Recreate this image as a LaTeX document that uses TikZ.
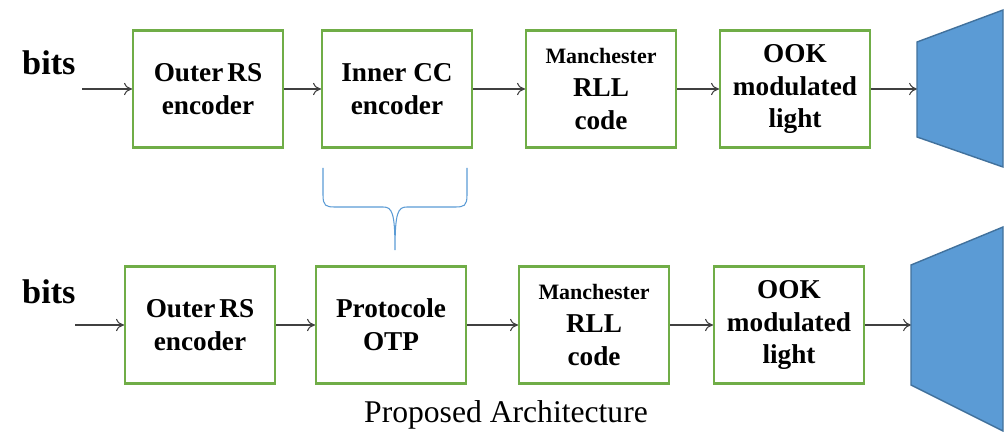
\documentclass[tikz,border=0pt]{standalone}
\usepackage{fontspec}
\setmainfont{Liberation Serif}
\usetikzlibrary{arrows.meta}
\definecolor{boxgreen}{RGB}{112,173,71}
\definecolor{lensblue}{RGB}{91,155,213}
\definecolor{lensedge}{RGB}{65,113,156}
\definecolor{wire}{RGB}{64,64,64}
\tikzset{
  block/.style={draw=boxgreen, line width=1.2pt, fill=white, minimum width=3cm,
    minimum height=2.34cm, inner sep=0pt, align=center,
    font=\bfseries\fontsize{15.5}{18.6}\selectfont},
  flow/.style={draw=wire, line width=0.6pt, -{To[length=4.5pt,width=7pt]}},
  lens/.style={fill=lensblue, draw=lensedge, line width=0.8pt},
  bitsfont/.style={font=\bfseries\fontsize{19.5}{22}\selectfont, anchor=base west}
}
\newcommand{\smallline}[1]{{\fontsize{12.5}{15}\selectfont #1}}
\begin{document}
\begin{tikzpicture}[x=0.02cm,y=-0.02cm]
\useasboundingbox (0,0) rectangle (1006,432);
% top chain
\node[bitsfont] (bitsA) at (16,75) {bits};
\coordinate (inA) at (82,89);
\node[block] (rsA) at (208,89) {Outer\hspace{0.15em}RS\\encoder};
\node[block] (ccA) at (397,89) {Inner CC\\encoder};
\node[block] (rllA) at (601,89) {\smallline{Manchester}\\RLL\\code};
\node[block] (ookA) at (795,89) {OOK\\modulated\\light};
\coordinate (lensA) at (917,89);
\draw[flow] (inA) -- (rsA);
\draw[flow] (rsA) -- (ccA);
\draw[flow] (ccA) -- (rllA);
\draw[flow] (rllA) -- (ookA);
\draw[flow] (ookA) -- (lensA);
\draw[lens] (917,42) -- (1003,10) -- (1003,167) -- (917,137) -- cycle;
% brace
\draw[lensblue, line width=0.6pt] (323,168) -- (323,195)
  .. controls (323,206) and (326,207) .. (335,207) -- (383,207)
  .. controls (392,207) and (395,212) .. (395,250)
  .. controls (395,212) and (398,207) .. (407,207) -- (455,207)
  .. controls (464,207) and (467,206) .. (467,195) -- (467,168);
% bottom chain
\node[bitsfont] (bitsB) at (16,303) {bits};
\coordinate (inB) at (75,325);
\node[block] (rsB) at (200,325) {Outer\hspace{0.15em}RS\\encoder};
\node[block] (otpB) at (391,325) {Protocole\\OTP};
\node[block] (rllB) at (594,325) {\smallline{Manchester}\\RLL\\code};
\node[block] (ookB) at (789,325) {OOK\\modulated\\light};
\coordinate (lensB) at (911,325);
\draw[flow] (inB) -- (rsB);
\draw[flow] (rsB) -- (otpB);
\draw[flow] (otpB) -- (rllB);
\draw[flow] (rllB) -- (ookB);
\draw[flow] (ookB) -- (lensB);
\draw[lens] (911,265) -- (1003,227) -- (1003,431) -- (911,385) -- cycle;
\node[font=\fontsize{18}{20}\selectfont, anchor=base] (caption) at (506,422) {Proposed Architecture};
\end{tikzpicture}
\end{document}
